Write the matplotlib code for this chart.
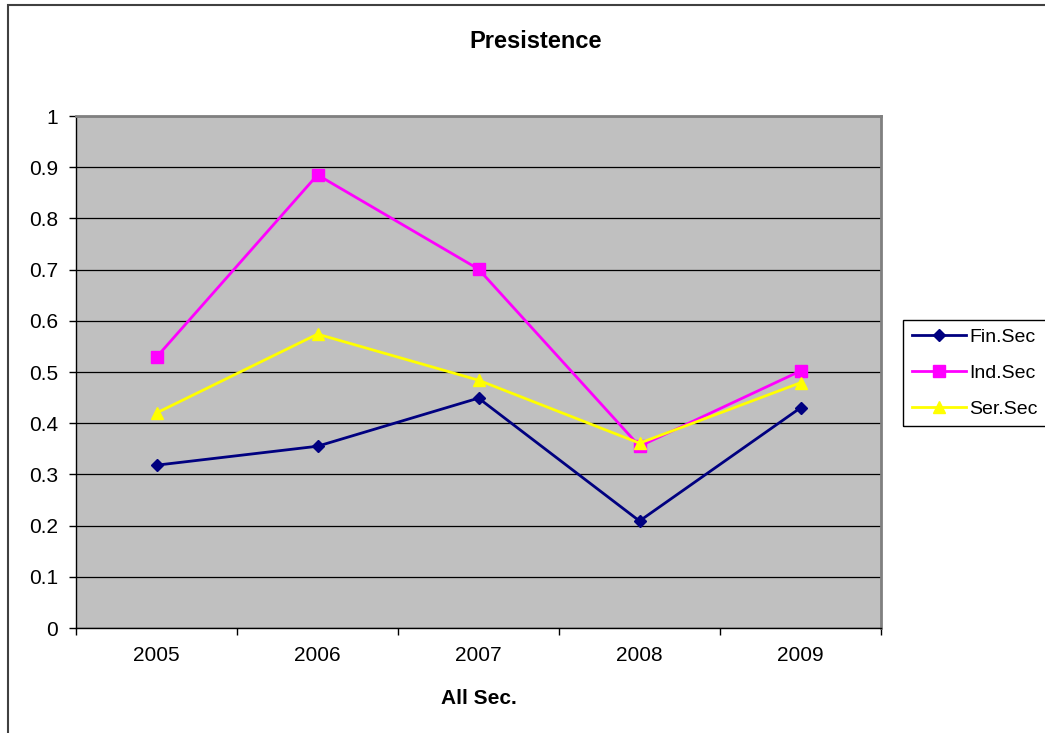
import matplotlib.pyplot as plt
from matplotlib.patches import Rectangle
import numpy as np

plt.rcParams['font.family'] = ['Liberation Sans', 'DejaVu Sans']

years = ['2005', '2006', '2007', '2008', '2009']
fin_sec = [0.318, 0.355, 0.449, 0.209, 0.430]
ind_sec = [0.529, 0.885, 0.701, 0.355, 0.502]
ser_sec = [0.420, 0.574, 0.484, 0.361, 0.479]

W, H = 1045, 733
fig = plt.figure(figsize=(W / 100, H / 100), dpi=100)
ax = fig.add_axes([76 / W, 1 - 628 / H, (881 - 76) / W, (628 - 116) / H])
ax.set_facecolor('#c0c0c0')

x = np.arange(len(years))
ax.plot(x, fin_sec, color='#000080', lw=2, marker='D', ms=6.5, label='Fin.Sec', zorder=3)
ax.plot(x, ind_sec, color='#ff00ff', lw=2, marker='s', ms=8.5, label='Ind.Sec', zorder=3)
ax.plot(x, ser_sec, color='#ffff00', lw=2, marker='^', ms=8.5, label='Ser.Sec', zorder=3)

ax.set_xlim(-0.5, len(years) - 0.5)
ax.set_ylim(0, 1)
ax.set_yticks(np.arange(0, 1.01, 0.1))
ax.set_yticklabels(['0', '0.1', '0.2', '0.3', '0.4', '0.5', '0.6', '0.7', '0.8', '0.9', '1'])
ax.yaxis.grid(True, color='black', lw=0.9)
ax.set_axisbelow(True)

ax.set_xticks(x)
ax.set_xticklabels(years)
ax.set_xticks(np.arange(-0.5, len(years)), minor=True)
ax.tick_params(axis='x', which='major', length=0, pad=13, labelsize=15)
ax.tick_params(axis='x', which='minor', length=5, width=1, direction='out')
ax.tick_params(axis='y', length=5, width=1, direction='out', pad=8, labelsize=15)

for side in ['left', 'bottom']:
    ax.spines[side].set_color('black')
    ax.spines[side].set_linewidth(1)
for side in ['top', 'right']:
    ax.spines[side].set_color('#808080')
    ax.spines[side].set_linewidth(2)

ax.set_xlabel('All Sec.', fontsize=15, fontweight='bold', labelpad=17)
fig.text(536 / W, 1 - 41 / H, 'Presistence', ha='center', va='center',
         fontsize=17, fontweight='bold')

# outer chart frame (right and bottom run off the edge)
fig.patches.append(Rectangle((8 / W, -0.05), 1.2, 1 - 5 / H + 0.05, transform=fig.transFigure,
                             fill=False, edgecolor='#404040', lw=1.5))
# legend frame
fig.patches.append(Rectangle((903 / W, 1 - 426 / H), 0.2, 106 / H, transform=fig.transFigure,
                             fill=False, edgecolor='black', lw=1))

fig.legend(loc='upper left', bbox_to_anchor=(904 / W, 1 - 320 / H), frameon=False,
           fontsize=14, handlelength=2.75, labelspacing=0.95, handletextpad=0.2,
           borderaxespad=0, borderpad=0.42)

fig.savefig('out.png', dpi=100)
